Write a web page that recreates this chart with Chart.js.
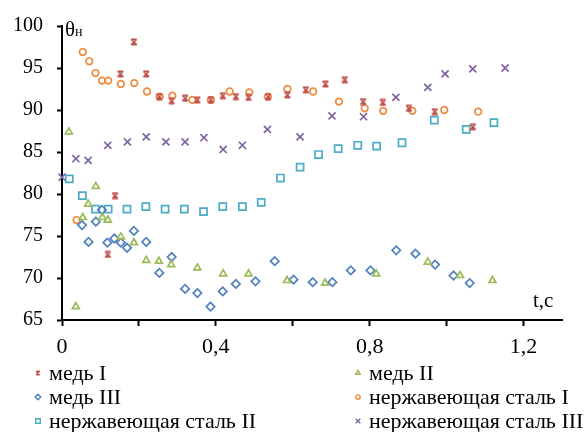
<!DOCTYPE html>
<html lang="ru">
<head>
<meta charset="UTF-8" />
<title>θн от t</title>
<script src="https://cdn.jsdelivr.net/npm/chart.js"></script>
<style>
  body { margin: 0; background: #fff; }
  #wrap { position: relative; width: 587px; height: 432px; font-family: "Liberation Serif", "Times New Roman", serif; color: #000; }
  #c { position: absolute; left: 0; top: 0; }
  .lbl { position: absolute; white-space: nowrap; line-height: 1; }
  #yTitle { left: 65px; top: 19px; font-size: 21px; }
  #yTitle span { font-size: 14px; }
  #xTitle { left: 533px; top: 290px; font-size: 21px; }
  .item { position: absolute; height: 24px; display: flex; align-items: center; font-size: 22px; white-space: nowrap; }
  .item canvas { width: 12px; height: 12px; margin-right: 5px; }
</style>
</head>
<body>
<div id="wrap">
  <canvas id="c" width="587" height="432"></canvas>
  <div class="lbl" id="yTitle">θ<span>н</span></div>
  <div class="lbl" id="xTitle">t,c</div>
  <div id="legend"></div>
</div>

<script>
// axis ticks
const xTickValues = [0, 0.2, 0.4, 0.6, 0.8, 1.0, 1.2]
const xTickLabels = ["0", "", "0,4", "", "0,8", "", "1,2"]

// медь I
const tMed1 = [0.119, 0.138, 0.152, 0.187, 0.219, 0.253, 0.285, 0.320, 0.352, 0.387, 0.418, 0.452, 0.485, 0.536, 0.586, 0.634, 0.685, 0.735, 0.783, 0.834, 0.902, 0.969, 1.068]
const thMed1 = [72.8, 79.8, 94.3, 98.1, 94.3, 91.6, 91.1, 91.4, 91.2, 91.2, 91.7, 91.6, 91.5, 91.6, 91.8, 92.4, 93.1, 93.6, 91.0, 90.9, 90.2, 89.8, 88.0]

// медь II
const tMed2 = [0.018, 0.036, 0.054, 0.068, 0.088, 0.105, 0.119, 0.153, 0.187, 0.219, 0.252, 0.284, 0.352, 0.419, 0.485, 0.585, 0.684, 0.817, 0.951, 1.035, 1.119]
const thMed2 = [87.4, 66.6, 77.2, 78.8, 80.9, 77.2, 76.9, 74.9, 74.2, 72.1, 72.0, 71.6, 71.2, 70.5, 70.5, 69.7, 69.4, 70.5, 71.9, 70.3, 69.7]

// медь III
const tMed3 = [0.052, 0.069, 0.088, 0.104, 0.118, 0.136, 0.153, 0.169, 0.187, 0.219, 0.253, 0.285, 0.320, 0.352, 0.386, 0.418, 0.452, 0.503, 0.553, 0.602, 0.652, 0.703, 0.751, 0.802, 0.869, 0.919, 0.970, 1.018, 1.060]
const thMed3 = [76.3, 74.3, 76.7, 78.1, 74.2, 74.7, 74.2, 73.6, 75.6, 74.3, 70.6, 72.5, 68.7, 68.2, 66.6, 68.4, 69.3, 69.6, 72.0, 69.8, 69.5, 69.5, 70.9, 70.9, 73.3, 72.9, 71.6, 70.3, 69.4]

// нержавеющая сталь I
const tSt1 = [0.038, 0.054, 0.071, 0.087, 0.104, 0.120, 0.153, 0.188, 0.221, 0.254, 0.287, 0.339, 0.387, 0.436, 0.487, 0.535, 0.586, 0.653, 0.720, 0.787, 0.835, 0.911, 0.994, 1.082]
const thSt1 = [76.9, 96.9, 95.8, 94.4, 93.5, 93.5, 93.1, 93.2, 92.2, 91.6, 91.7, 91.2, 91.2, 92.2, 92.1, 91.6, 92.5, 92.2, 91.0, 90.2, 89.9, 89.9, 90.0, 89.8]

// нержавеющая сталь II
const tSt2 = [0.019, 0.053, 0.087, 0.120, 0.169, 0.218, 0.268, 0.318, 0.368, 0.418, 0.469, 0.518, 0.568, 0.619, 0.667, 0.718, 0.769, 0.818, 0.884, 0.968, 1.051, 1.123]
const thSt2 = [81.8, 79.8, 78.2, 78.2, 78.2, 78.5, 78.2, 78.2, 77.9, 78.5, 78.5, 79.0, 81.9, 83.2, 84.7, 85.4, 85.8, 85.7, 86.1, 88.8, 87.7, 88.5]

// нержавеющая сталь III
const tSt3 = [0.0, 0.036, 0.068, 0.119, 0.170, 0.219, 0.270, 0.320, 0.369, 0.419, 0.469, 0.534, 0.619, 0.702, 0.784, 0.868, 0.951, 0.996, 1.068, 1.152]
const thSt3 = [82.0, 84.2, 84.0, 85.8, 86.2, 86.8, 86.2, 86.2, 86.7, 85.3, 85.8, 87.7, 86.8, 89.3, 89.2, 91.5, 92.7, 94.3, 94.9, 95.0]

const pts = (t, th) => t.map((v, i) => ({ x: v, y: th[i] }))

// hourglass-like marker for "медь I"
function starMarker(size, lw) {
    const c = document.createElement("canvas")
    c.width = size
    c.height = size
    const g = c.getContext("2d")
    const a = 1.2, b = size - 1.2
    g.strokeStyle = "#C0504D"
    g.lineWidth = lw
    g.beginPath()
    g.moveTo(a, a); g.lineTo(b, b)
    g.moveTo(b, a); g.lineTo(a, b)
    g.moveTo(a, a); g.lineTo(b, a)
    g.moveTo(a, b); g.lineTo(b, b)
    g.stroke()
    return c
}
const star = starMarker(8, 1.6)

function ds(label, t, th, color, style, r) {
    return {
        label: label,
        data: pts(t, th),
        pointStyle: style,
        pointRadius: r,
        pointHoverRadius: r,
        borderColor: color,
        backgroundColor: "rgba(0,0,0,0)",
        pointBorderWidth: 1.7,
        showLine: false,
        clip: false,
    }
}

const datasets = [
    ds("медь I", tMed1, thMed1, "#C0504D", star, 4),
    ds("медь II", tMed2, thMed2, "#9BBB59", "triangle", 4),
    ds("медь III", tMed3, thMed3, "#4F81BD", "rectRot", 4.2),
    ds("нержавеющая сталь I", tSt1, thSt1, "#EE8A3C", "circle", 3.3),
    ds("нержавеющая сталь II", tSt2, thSt2, "#4BACC6", "rect", 5),
    ds("нержавеющая сталь III", tSt3, thSt3, "#8064A2", "crossRot", 5),
]

const serif = "'Liberation Serif', 'Times New Roman', serif"

const chart = new Chart(document.getElementById("c"), {
    type: "scatter",
    data: { datasets: datasets },
    options: {
        responsive: false,
        animation: false,
        events: [],
        layout: { padding: { left: 0, top: 23, right: 25, bottom: 0 } },
        plugins: { legend: { display: false }, tooltip: { enabled: false } },
        scales: {
            x: {
                type: "linear",
                min: 0,
                max: 1.3,
                afterBuildTicks: (s) => { s.ticks = xTickValues.map((v) => ({ value: v })) },
                afterFit: (s) => { s.height = 112 },
                ticks: {
                    color: "#000",
                    font: { family: serif, size: 22 },
                    padding: 8,
                    maxRotation: 0,
                    autoSkip: false,
                    callback: (v, i) => xTickLabels[i],
                },
                grid: { drawOnChartArea: false, tickLength: 6, tickColor: "#000", tickWidth: 2 },
                border: { color: "#000", width: 2 },
            },
            y: {
                min: 65,
                max: 100,
                afterFit: (s) => { s.width = 62 },
                ticks: { stepSize: 5, color: "#000", font: { family: serif, size: 20 }, padding: 14 },
                grid: { drawOnChartArea: false, tickLength: 5, tickColor: "#000", tickWidth: 2 },
                border: { color: "#000", width: 2 },
            },
        },
    },
})

// legend in two columns, row-major like the original
const legend = document.getElementById("legend")
const colX = [38, 358]
const rowY = [373, 397, 421]
datasets.forEach((d, i) => {
    const item = document.createElement("div")
    item.className = "item"
    item.style.left = colX[i % 2] - 6 + "px"
    item.style.top = rowY[Math.floor(i / 2)] - 12 + "px"
    const c = document.createElement("canvas")
    c.width = 12
    c.height = 12
    const g = c.getContext("2d")
    if (typeof d.pointStyle !== "string") {
        g.drawImage(starMarker(6, 1.3), 3, 3)
    } else {
        g.strokeStyle = d.borderColor
        g.fillStyle = "rgba(0,0,0,0)"
        g.lineWidth = 1.4
        Chart.helpers.drawPoint(g, { pointStyle: d.pointStyle, radius: d.pointRadius * 0.65, borderWidth: 1.4, rotation: 0 }, 6, 6)
    }
    item.appendChild(c)
    const s = document.createElement("span")
    s.textContent = d.label
    item.appendChild(s)
    legend.appendChild(item)
})
</script>
</body>
</html>
